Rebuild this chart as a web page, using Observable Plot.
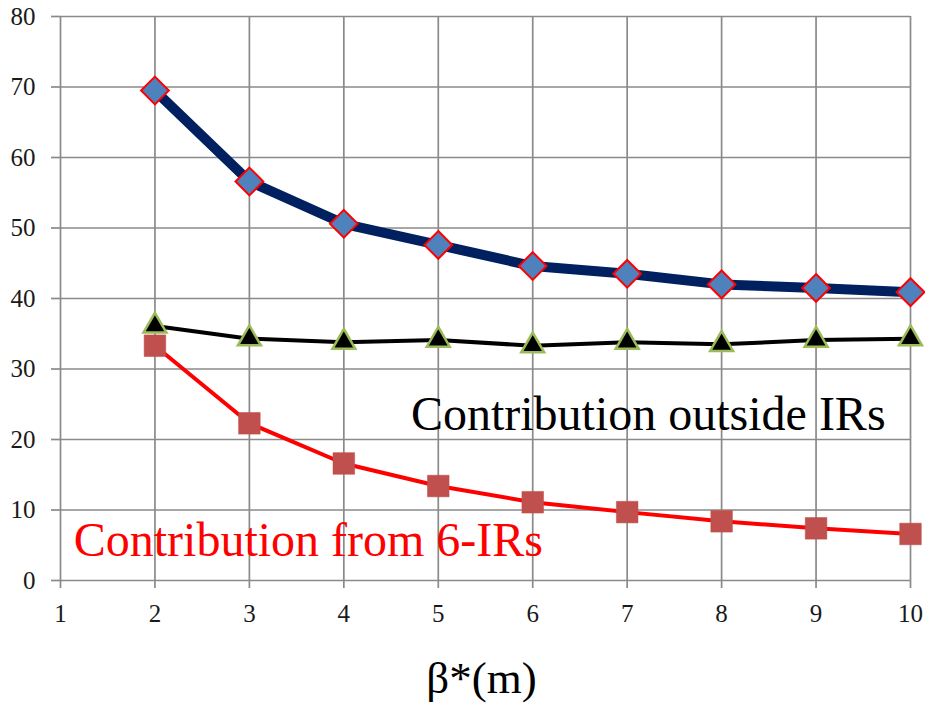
<!DOCTYPE html>
<html>
<head>
<meta charset="utf-8">
<script src="https://cdn.jsdelivr.net/npm/d3@7"></script>
<script src="https://cdn.jsdelivr.net/npm/@observablehq/plot@0.6"></script>
<style>
  html, body { margin: 0; padding: 0; background: #fff; }
  #chart svg { display: block; }
  #chart svg text { font-family: "Liberation Serif", "Times New Roman", serif; }
</style>
</head>
<body>
<div id="chart"></div>
<script>
const beta = [2, 3, 4, 5, 6, 7, 8, 9, 10];
const total = [69.5, 56.6, 50.6, 47.6, 44.6, 43.5, 42.0, 41.5, 40.9];
const outsideIRs = [36.1, 34.3, 33.8, 34.1, 33.3, 33.8, 33.5, 34.1, 34.3];
const from6IRs = [33.3, 22.3, 16.6, 13.4, 11.1, 9.7, 8.4, 7.4, 6.6];
const xTicks = [1, 2, 3, 4, 5, 6, 7, 8, 9, 10];
const yTicks = [0, 10, 20, 30, 40, 50, 60, 70, 80];
const labels = [
  {x: 4.71, y: 23.5, text: "Contribution outside IRs", color: "black"},
  {x: 1.14, y: 5.6, text: "Contribution from 6-IRs", color: "#ff0000"}
];
const xTitle = "β*(m)";

const serif = "Liberation Serif, Times New Roman, serif";
const rows = (ys) => beta.map((b, i) => ({x: b, y: ys[i]}));
const dTotal = rows(total), dOut = rows(outsideIRs), dFrom = rows(from6IRs);

const chart = Plot.plot({
  width: 925,
  height: 705,
  marginLeft: 60,
  marginRight: 15,
  marginTop: 16,
  marginBottom: 125,
  style: {fontFamily: serif, background: "white"},
  x: {domain: [1, 10]},
  y: {domain: [0, 80]},
  marks: [
    Plot.gridX(xTicks, {stroke: "#8a8a8a", strokeOpacity: 1, strokeWidth: 1.7}),
    Plot.gridY(yTicks, {stroke: "#8a8a8a", strokeOpacity: 1, strokeWidth: 1.7}),
    Plot.axisX(xTicks, {tickSize: 8, tickPadding: 16, stroke: "#8a8a8a", strokeWidth: 1.7, fontSize: 25, fontFamily: serif, fill: "#1a1a1a", label: null, tickFormat: d => String(d)}),
    Plot.axisY(yTicks, {tickSize: 9, tickPadding: 16, stroke: "#8a8a8a", strokeWidth: 1.7, fontSize: 25, fontFamily: serif, fill: "#1a1a1a", label: null, tickFormat: d => String(d)}),
    Plot.line(dFrom, {x: "x", y: "y", stroke: "#ff0000", strokeWidth: 4}),
    Plot.dot(dFrom, {x: "x", y: "y", symbol: "square", r: 12.2, fill: "#c0504d", stroke: "#c0504d", strokeWidth: 0.5}),
    Plot.line(dOut, {x: "x", y: "y", stroke: "black", strokeWidth: 4}),
    Plot.dot(dOut, {x: "x", y: "y", symbol: "triangle", r: 8.5, fill: "black", stroke: "#9bbb59", strokeWidth: 2.5}),
    Plot.line(dTotal, {x: "x", y: "y", stroke: "#002060", strokeWidth: 10}),
    Plot.dot(dTotal, {x: "x", y: "y", symbol: "diamond2", r: 12.5, fill: "#4f81bd", stroke: "#ff0000", strokeWidth: 2}),
    Plot.text(labels, {x: "x", y: "y", text: "text", fill: "color", textAnchor: "start", lineAnchor: "middle", fontSize: 48, fontFamily: serif}),
    Plot.text([xTitle], {frameAnchor: "bottom", dx: -4, dy: 98, lineAnchor: "middle", fontSize: 45, fontFamily: serif, fill: "black", text: d => d})
  ]
});
document.getElementById("chart").appendChild(chart);
</script>
</body>
</html>
